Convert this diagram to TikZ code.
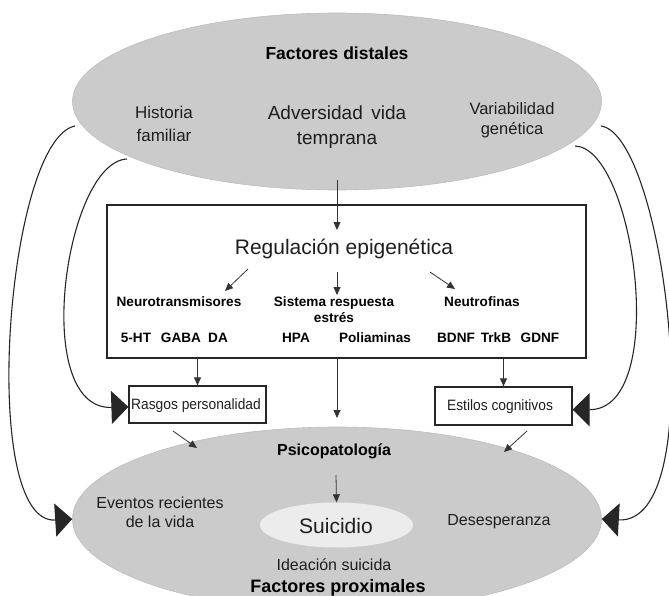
\documentclass[tikz,border=0pt]{standalone}
\usepackage{fontspec}
\setmainfont{Liberation Sans}
\newfontfamily\narrowfont{Liberation Sans}[FakeStretch=0.92]
\usetikzlibrary{shapes.geometric,arrows.meta}
\definecolor{ellgray}{RGB}{203,203,203}
\definecolor{ellline}{RGB}{188,188,188}
\definecolor{suigray}{RGB}{236,236,236}
\definecolor{txtgray}{RGB}{30,30,30}
\tikzset{
  bigell/.style={ellipse, fill=ellgray, draw=ellline, line width=0.6pt, inner sep=0pt},
  txt/.style={text=txtgray, inner sep=0pt, align=center},
  btxt/.style={text=black, inner sep=0pt, align=center, font=\bfseries\fontsize{13.6}{16}\selectfont},
  smallbox/.style={draw=black!85, line width=1.2pt, inner sep=0pt},
  thinarrow/.style={draw=black!80, line width=0.8pt, -{Triangle[length=8pt,width=7pt]}},
  bigarrow/.style={draw=black!85, line width=1.1pt, -{Triangle[length=17pt,width=33pt]}}
}
\begin{document}
\begin{tikzpicture}[x=1pt,y=-1pt]
\useasboundingbox (0,0) rectangle (669,596);
% ellipses
\node[bigell, minimum width=529pt, minimum height=177pt] (top) at (337,101.5) {};
\node[bigell, minimum width=529pt, minimum height=184pt] (bot) at (337,519) {};
\node[ellipse, fill=suigray, inner sep=0pt, minimum width=153pt, minimum height=45pt] (sui) at (336.5,525) {};
% top texts
\node[btxt, font=\bfseries\fontsize{17.5}{21}\selectfont] (fd) at (337,53) {Factores distales};
\node[txt, font=\fontsize{17}{23}\selectfont] (hist) at (164,123.5) {Historia\\familiar};
\node[txt, font=\fontsize{19}{25}\selectfont] (adv) at (337,127.5) {Adversidad\, vida\\temprana};
\node[txt, font=\fontsize{16.5}{20}\selectfont] (var) at (512,120) {Variabilidad\\genética};
% big box
\node[draw=black!85, line width=1.3pt, minimum width=479pt, minimum height=153pt, inner sep=0pt] (box) at (346.5,281.5) {};
\node[txt, font=\fontsize{21}{25}\selectfont] (reg) at (344,249) {Regulación epigenética};
\node[btxt] (neuro) at (179,302) {Neurotransmisores};
\node[btxt] (sis) at (334,309.5) {Sistema respuesta\\estrés};
\node[btxt] (neutro) at (482,302) {Neutrofinas};
\node[btxt] (ht) at (136,338) {5-HT};
\node[btxt] (gaba) at (181,338) {GABA};
\node[btxt] (da) at (218,338) {DA};
\node[btxt] (hpa) at (296,338) {HPA};
\node[btxt] (poli) at (375,338) {Poliaminas};
\node[btxt] (bdnf) at (456,338) {BDNF};
\node[btxt] (trkb) at (496,338) {TrkB};
\node[btxt] (gdnf) at (540,338) {GDNF};
% small boxes
\node[smallbox, minimum width=137pt, minimum height=37pt] (rasgos) at (197.5,404.5) {};
\node[txt, font=\narrowfont\fontsize{15}{17}\selectfont] (rasgost) at (196,406) {Rasgos personalidad};
\node[smallbox, minimum width=137pt, minimum height=38pt] (estilos) at (503.5,406) {};
\node[txt, font=\narrowfont\fontsize{15}{17}\selectfont] (estilost) at (500,406.5) {Estilos cognitivos};
% bottom texts
\node[btxt, font=\bfseries\fontsize{16}{19}\selectfont] (psico) at (334,451) {Psicopatología};
\node[txt, font=\fontsize{16}{19.5}\selectfont] (ev) at (160,512.5) {Eventos recientes\\de la vida};
\node[txt, font=\fontsize{21}{25}\selectfont] (suit) at (336,526) {Suicidio};
\node[txt, font=\fontsize{16}{19}\selectfont] (des) at (499,522) {Desesperanza};
\node[txt, font=\fontsize{16}{19}\selectfont] (idea) at (334,565) {Ideación suicida};
\node[btxt, font=\bfseries\fontsize{18}{21}\selectfont] (fp) at (338,588) {Factores proximales};
% coordinates
\coordinate (a0) at (337,180);
\coordinate (a1) at (337,230);
\coordinate (l0) at (248,269);
\coordinate (l1) at (225,291);
\coordinate (m0) at (337,272);
\coordinate (m1) at (337,295);
\coordinate (r0) at (430,272);
\coordinate (r1) at (455,289);
\coordinate (mid1) at (337,418);
\coordinate (dl0) at (173,431);
\coordinate (dl1) at (197,448);
\coordinate (dr0) at (527,431);
\coordinate (dr1) at (504,452);
\coordinate (ps0) at (336,475);
\coordinate (lo0) at (75,126);
\coordinate (li0) at (127,159);
\coordinate (ro0) at (601,126);
\coordinate (ri0) at (575,146);
% straight arrows
\draw[thinarrow] (a0) -- (a1);
\draw[thinarrow] (l0) -- (l1);
\draw[thinarrow] (m0) -- (m1);
\draw[thinarrow] (r0) -- (r1);
\draw[thinarrow] (box.south -| rasgos.north) -- (rasgos.north);
\draw[thinarrow] (box.south -| mid1) -- (mid1);
\draw[thinarrow] (box.south -| estilos.north) -- (estilos.north);
\draw[thinarrow] (dl0) -- (dl1);
\draw[thinarrow] (dr0) -- (dr1);
\draw[thinarrow] (ps0) -- (sui.north);
% curved arrows
\draw[bigarrow] (lo0) .. controls (6,140) and (-22,525) .. (bot.west);
\draw[bigarrow] (li0) .. controls (65,162) and (30,410) .. (rasgos.182);
\draw[bigarrow] (ro0) .. controls (665,135) and (712,525) .. (bot.east);
\draw[bigarrow] (ri0) .. controls (635,148) and (670,410) .. (estilos.-3);
\end{tikzpicture}
\end{document}
